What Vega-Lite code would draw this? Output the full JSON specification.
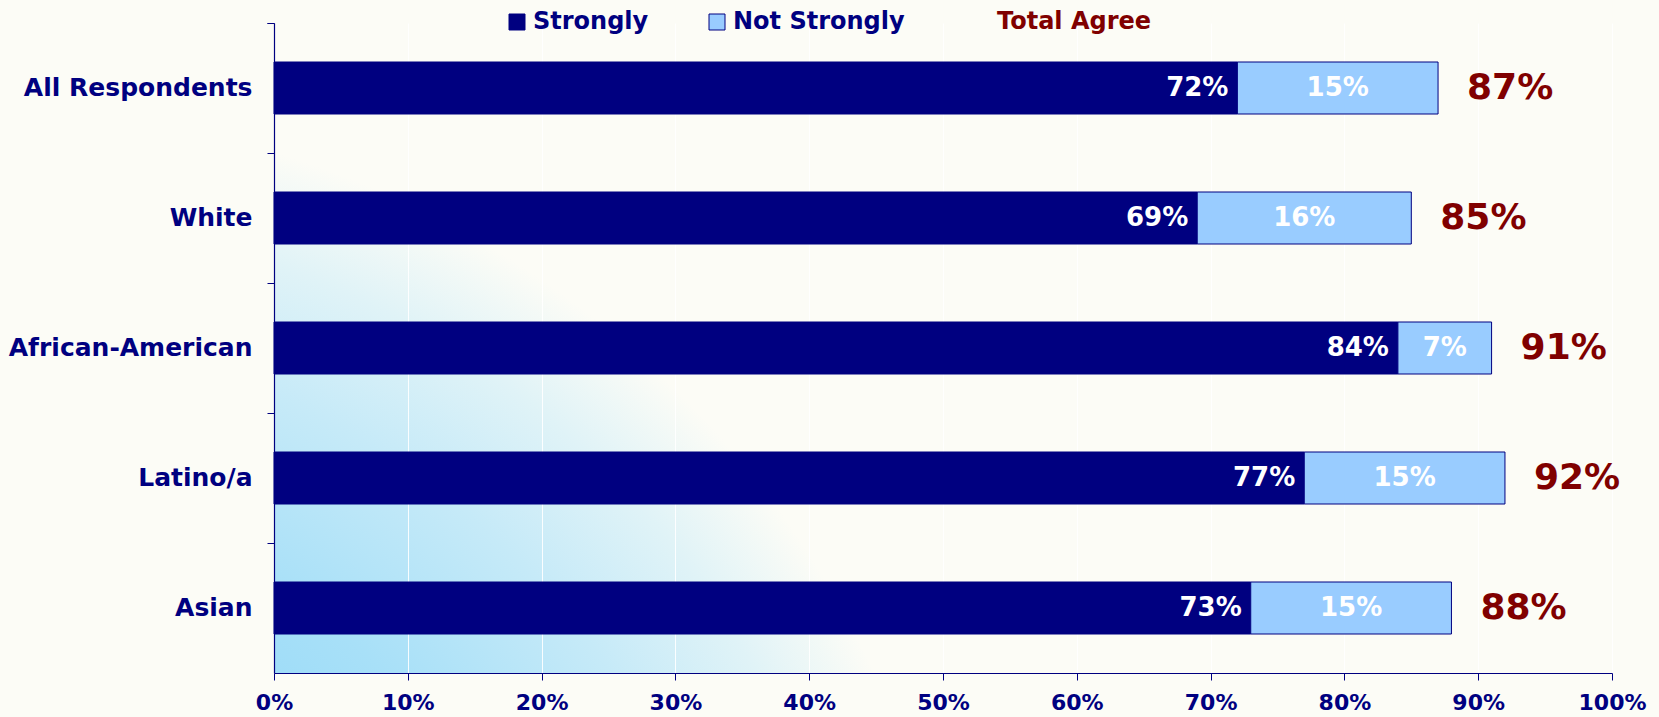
{
  "$schema": "https://vega.github.io/schema/vega-lite/v6.json",
  "width": 1338,
  "height": 650,
  "autosize": {"type": "none"},
  "padding": {"left": 274, "top": 23, "right": 47, "bottom": 44},
  "background": "#FCFCF6",
  "datasets": {
    "segments": [
      {"group": "All Respondents", "type": "Strongly", "value": 0.72},
      {"group": "All Respondents", "type": "Not  Strongly", "value": 0.15},
      {"group": "White", "type": "Strongly", "value": 0.69},
      {"group": "White", "type": "Not  Strongly", "value": 0.16},
      {"group": "African-American", "type": "Strongly", "value": 0.84},
      {"group": "African-American", "type": "Not  Strongly", "value": 0.07},
      {"group": "Latino/a", "type": "Strongly", "value": 0.77},
      {"group": "Latino/a", "type": "Not  Strongly", "value": 0.15},
      {"group": "Asian", "type": "Strongly", "value": 0.73},
      {"group": "Asian", "type": "Not  Strongly", "value": 0.15}
    ],
    "totals": [
      {"group": "All Respondents", "total": 0.87},
      {"group": "White", "total": 0.85},
      {"group": "African-American", "total": 0.91},
      {"group": "Latino/a", "total": 0.92},
      {"group": "Asian", "total": 0.88}
    ]
  },
  "config": {
    "font": "DejaVu Sans",
    "view": {
      "stroke": null,
      "fill": {
        "gradient": "radial",
        "x1": -0.205, "y1": 1.044, "r1": 0,
        "x2": -0.205, "y2": 1.044, "r2": 0.72,
        "stops": [
          {"offset": 0, "color": "#8FD8F8"},
          {"offset": 0.43, "color": "#98DAF8"},
          {"offset": 0.58, "color": "#A8E0F8"},
          {"offset": 0.76, "color": "#C6EAF8"},
          {"offset": 0.89, "color": "#E0F3F7"},
          {"offset": 1, "color": "#FCFCF6"}
        ]
      }
    }
  },
  "encoding": {
    "y": {
      "field": "group",
      "type": "nominal",
      "sort": null,
      "scale": {"paddingInner": 0, "paddingOuter": 0},
      "axis": {
        "title": null,
        "labelFont": "DejaVu Sans",
        "labelFontSize": 25,
        "labelFontWeight": "bold",
        "labelColor": "#000080",
        "labelPadding": 15,
        "labelLimit": 400,
        "tickSize": 7,
        "tickColor": "#000080",
        "tickWidth": 1,
        "domainColor": "#000080",
        "domainWidth": 1.2,
        "bandPosition": 0,
        "tickExtra": true,
        "grid": false
      }
    }
  },
  "layer": [
    {
      "data": {"name": "segments"},
      "mark": {"type": "bar", "height": {"band": 0.4}, "stroke": "#000080", "strokeWidth": 1},
      "encoding": {
        "x": {
          "field": "value",
          "type": "quantitative",
          "stack": "zero",
          "scale": {"domain": [0, 1], "nice": false},
          "axis": {
            "title": null,
            "values": [0, 0.1, 0.2, 0.3, 0.4, 0.5, 0.6, 0.7, 0.8, 0.9, 1],
            "format": ".0%",
            "labelFlush": false,
            "labelFont": "DejaVu Sans",
            "labelFontSize": 22,
            "labelFontWeight": "bold",
            "labelColor": "#000080",
            "labelPadding": 12,
            "tickSize": 7,
            "tickColor": "#000080",
            "domainColor": "#000080",
            "domainWidth": 1.2,
            "grid": true,
            "gridColor": "#FFFFFF",
            "gridWidth": 1,
            "gridOpacity": 0.9
          }
        },
        "color": {
          "field": "type",
          "type": "nominal",
          "scale": {
            "domain": ["Strongly", "Not  Strongly", "Total Agree"],
            "range": ["#000080", "#99CCFF", "#800000"]
          },
          "legend": {
            "title": null,
            "orient": "none",
            "legendX": 231,
            "legendY": -13,
            "direction": "horizontal",
            "padding": 0,
            "symbolType": "square",
            "symbolSize": 256,
            "symbolStrokeColor": "#000080",
            "symbolStrokeWidth": 1,
            "labelFont": "DejaVu Sans",
            "labelFontSize": 24,
            "labelFontWeight": "bold",
            "labelColor": "#000080",
            "labelOffset": 4,
            "columnPadding": 56,
            "labelLimit": 400,
            "encode": {
              "symbols": {"update": {"opacity": {"signal": "datum.label === 'Total Agree' ? 0 : 1"}}},
              "labels": {"update": {"fill": {"signal": "datum.label === 'Total Agree' ? '#800000' : '#000080'"}}}
            }
          }
        },
        "order": {"field": "type", "sort": "descending"}
      }
    },
    {
      "data": {"name": "segments"},
      "mark": {"type": "text", "align": "right", "baseline": "middle", "dx": -9, "fontSize": 26, "fontWeight": "bold", "color": "#FFFFFF"},
      "encoding": {
        "x": {"field": "value", "type": "quantitative", "stack": "zero"},
        "detail": {"field": "type"},
        "order": {"field": "type", "sort": "descending"},
        "text": {"condition": {"test": "datum.type === 'Strongly'", "field": "value", "type": "quantitative", "format": ".0%"}, "value": ""}
      }
    },
    {
      "data": {"name": "segments"},
      "mark": {"type": "text", "align": "center", "baseline": "middle", "fontSize": 26, "fontWeight": "bold", "color": "#FFFFFF"},
      "encoding": {
        "x": {"field": "value", "type": "quantitative", "stack": "zero", "bandPosition": 0.5},
        "detail": {"field": "type"},
        "order": {"field": "type", "sort": "descending"},
        "text": {"condition": {"test": "datum.type === 'Not  Strongly'", "field": "value", "type": "quantitative", "format": ".0%"}, "value": ""}
      }
    },
    {
      "data": {"name": "totals"},
      "mark": {"type": "text", "align": "left", "baseline": "middle", "dx": 29, "fontSize": 36, "fontWeight": "bold", "color": "#800000"},
      "encoding": {
        "x": {"field": "total", "type": "quantitative"},
        "text": {"field": "total", "type": "quantitative", "format": ".0%"}
      }
    }
  ]
}
